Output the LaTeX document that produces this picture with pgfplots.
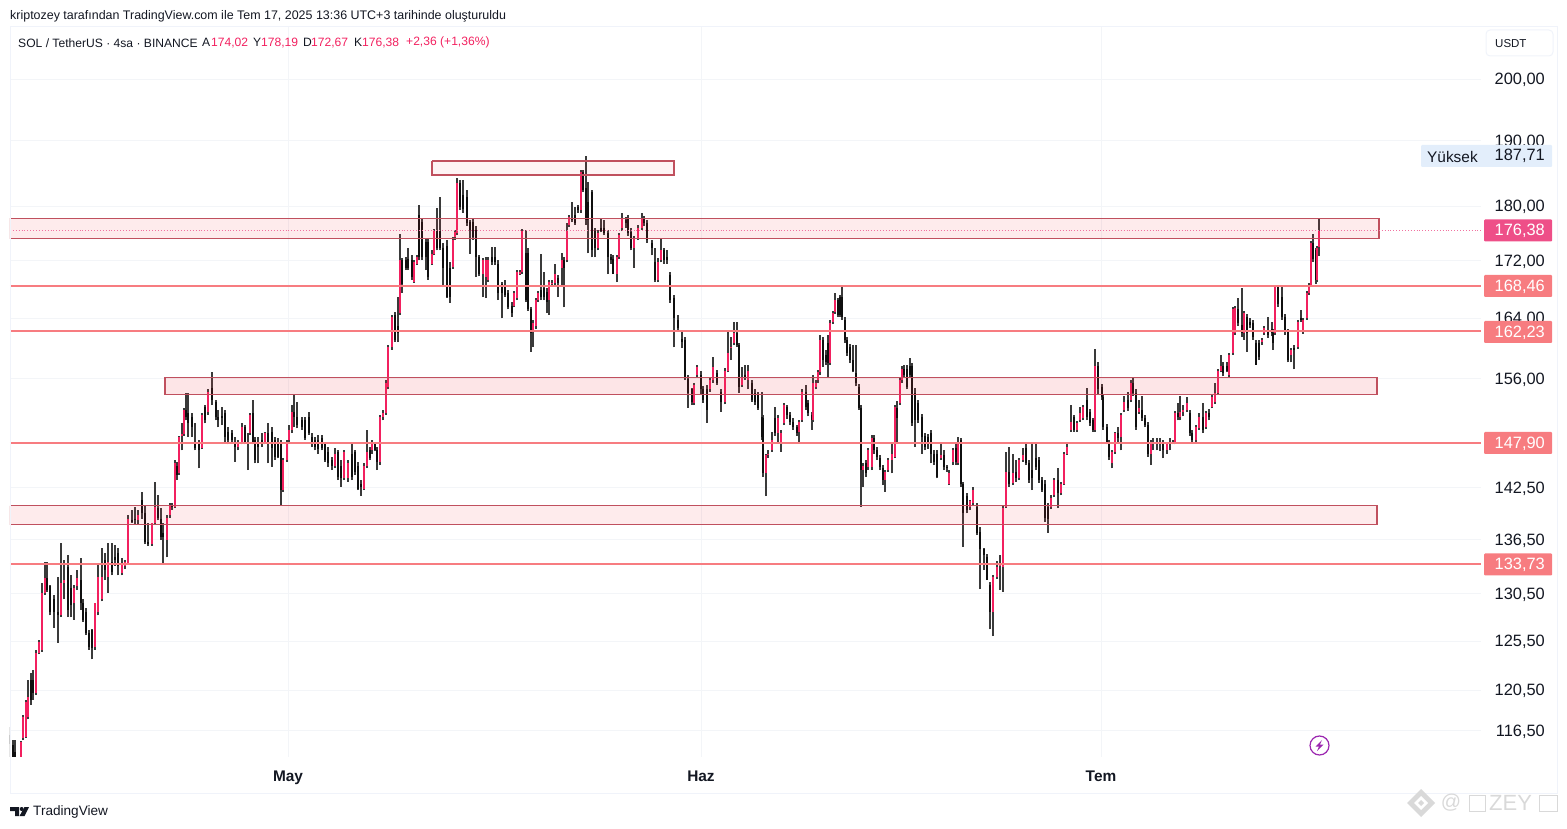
\documentclass[border=0pt]{standalone}
\usepackage{fontspec}
\setmainfont{Liberation Sans}
\usepackage{pgfplots}
\usepackage{pgfplotstable}
\pgfplotsset{compat=1.18}
\definecolor{up}{HTML}{F2205F}
\definecolor{down}{HTML}{0F0F0F}
\definecolor{wick}{HTML}{3A3A3A}
\definecolor{level}{HTML}{F77C80}
\definecolor{zoneb}{HTML}{C0505E}
\definecolor{zonef}{HTML}{F23645}
\definecolor{gridc}{HTML}{F3F5F8}
\definecolor{framec}{HTML}{F0F3FA}
\definecolor{txt}{HTML}{131722}
\definecolor{lastc}{HTML}{EE4F88}
\definecolor{hic}{HTML}{E3EEFB}
\definecolor{wm}{HTML}{D9D9D9}
\pgfplotstableread{
x o h l c
10 116.1 116.9 114.0 115.2
13 115.1 115.6 113.8 114.0
15 114.5 115.6 113.8 114.0
21 114.0 115.5 113.8 115.4
23 115.8 118.0 115.6 117.8
26 115.9 119.5 115.8 119.3
28 117.8 121.5 117.6 119.8
31 121.5 122.2 119.0 119.5
33 121.5 122.5 119.5 120.2
36 120.2 124.6 120.0 124.3
39 124.3 125.6 124.1 125.4
42 124.6 131.7 124.4 130.6
45 130.6 134.0 130.4 132.2
47 132.2 134.0 130.7 130.9
50 131.3 131.5 128.2 128.5
54 129.9 130.4 126.9 128.5
58 128.6 132.3 125.3 128.2
61 128.2 136.1 128.0 131.7
64 131.7 134.2 129.9 132.0
68 133.4 134.8 128.0 128.8
71 131.1 132.5 128.0 129.3
74 129.5 131.5 127.7 131.1
77 131.3 133.1 130.9 132.2
81 132.0 134.4 128.8 129.5
83 129.5 129.9 127.5 127.7
86 128.5 129.0 126.1 126.3
89 126.3 126.6 124.6 124.9
92 126.6 126.7 123.6 124.8
95 124.9 129.5 124.6 129.5
98 128.5 133.9 128.2 132.3
102 129.9 135.6 129.7 132.3
105 134.2 135.0 132.0 133.1
108 132.3 136.1 130.6 134.0
112 134.0 136.1 132.5 132.9
115 134.5 135.9 133.6 134.2
118 135.0 135.6 132.5 133.6
122 132.8 134.4 132.5 133.9
125 133.6 134.2 133.2 134.0
128 133.9 139.3 133.7 138.9
132 138.7 139.9 138.4 138.5
135 138.9 140.3 138.2 138.7
138 138.7 139.9 138.2 139.3
142 141.1 142.0 138.9 139.5
145 139.6 140.5 136.0 136.2
148 136.2 138.4 135.8 136.0
152 136.0 138.4 135.8 138.4
155 138.4 143.2 138.2 140.3
158 140.1 141.7 138.7 139.0
161 138.9 140.1 136.5 136.8
163 137.2 138.4 133.8 136.8
167 136.5 139.3 134.5 139.0
170 139.3 140.7 139.0 140.5
172 140.5 140.7 139.9 140.3
175 140.3 145.8 140.1 145.4
177 145.1 145.6 143.4 144.0
179 144.3 148.8 144.0 148.6
182 148.8 150.3 147.0 149.0
184 149.0 152.3 148.8 152.0
186 152.0 154.1 150.7 151.1
188 151.6 154.1 148.6 150.3
192 151.1 151.6 148.6 149.8
195 147.9 150.3 147.0 147.3
199 147.7 148.3 144.8 147.0
202 147.3 151.6 147.1 151.4
205 152.4 152.6 150.3 150.7
208 151.8 154.6 151.4 154.3
212 154.8 156.8 152.6 153.3
216 153.0 153.3 150.7 151.1
218 151.1 152.0 149.8 150.7
222 151.2 152.4 150.1 151.0
225 151.6 152.0 147.9 148.6
228 149.3 149.8 147.7 148.3
232 149.1 149.5 147.9 148.3
235 147.9 148.6 145.6 147.4
238 147.4 148.3 147.0 147.9
242 147.9 150.3 147.7 149.8
245 149.8 150.1 147.7 147.9
248 147.9 149.1 144.6 147.7
250 149.1 151.6 148.9 151.4
253 151.6 153.3 147.7 147.9
255 148.3 148.6 145.4 145.8
258 147.9 148.6 145.4 147.4
262 148.3 149.1 147.4 147.7
265 147.9 149.3 147.7 149.1
268 149.1 150.3 145.4 147.9
272 149.3 149.8 145.0 147.3
275 148.3 148.6 145.8 146.2
278 148.0 148.5 146.0 146.2
281 147.9 148.3 140.4 142.2
283 142.2 146.0 142.0 145.8
287 145.8 148.3 145.6 148.0
289 148.3 150.1 148.0 149.5
292 149.5 152.6 149.1 151.7
294 151.7 153.9 149.8 151.1
297 151.1 153.0 149.7 150.1
302 150.7 151.1 149.5 149.8
305 150.7 151.1 148.3 148.5
309 151.1 151.8 148.9 149.1
312 148.6 149.1 147.4 147.9
315 148.3 148.6 147.0 147.4
318 148.3 148.9 146.6 147.1
322 148.5 148.9 147.0 147.3
325 147.7 148.0 145.6 145.8
328 146.8 147.4 145.0 145.4
332 145.8 146.2 144.6 145.1
335 145.1 147.3 144.8 146.6
338 146.8 147.0 143.4 143.8
341 145.1 145.8 142.6 143.6
344 143.6 147.0 143.4 146.8
348 143.6 145.8 143.2 145.4
352 146.6 147.7 143.4 143.8
355 146.8 147.0 144.0 144.4
358 145.1 145.6 142.2 142.4
361 143.0 143.4 141.5 142.6
364 142.4 145.4 142.2 145.1
367 145.1 149.5 144.9 146.8
370 147.0 147.4 145.8 146.1
372 147.0 148.3 146.6 147.7
375 147.7 148.0 146.9 147.0
377 147.0 147.4 144.6 145.6
380 145.6 151.4 145.2 151.1
383 151.1 152.0 150.7 151.6
386 151.6 155.8 151.4 155.4
388 154.9 160.4 154.6 160.1
392 160.1 164.5 159.8 164.2
395 164.5 164.8 160.8 161.1
398 162.9 166.9 160.8 162.0
400 164.7 175.9 164.5 172.1
402 172.1 172.4 167.5 168.7
406 172.1 172.5 170.7 171.0
408 172.3 173.8 170.7 171.0
412 172.1 172.8 169.3 169.7
414 169.0 172.1 168.9 171.8
417 171.6 172.8 171.4 172.5
419 178.7 180.1 172.1 172.5
422 177.6 178.2 172.1 172.5
426 174.7 175.3 170.7 172.5
428 174.7 175.3 169.3 169.7
432 171.6 173.5 171.4 173.0
434 173.0 176.6 172.8 176.3
437 176.3 179.7 173.5 173.9
440 176.3 181.4 173.5 173.9
443 173.9 174.5 168.3 171.0
447 174.2 175.0 166.8 166.9
450 171.0 171.8 166.1 166.9
453 171.2 175.5 170.9 175.0
455 175.5 176.4 175.0 176.1
457 176.0 184.2 175.7 183.4
460 183.4 183.9 179.4 179.9
463 181.6 183.9 179.0 179.6
467 181.3 182.4 177.1 177.5
470 177.6 177.9 173.0 176.4
473 177.6 178.2 175.0 175.5
476 176.4 177.0 169.7 172.5
479 172.5 172.8 169.8 170.1
483 170.1 172.4 166.9 172.1
486 169.7 172.5 166.8 172.1
488 169.3 172.5 169.0 172.1
492 172.5 174.0 171.4 171.8
495 172.5 174.0 171.4 171.8
498 171.6 172.1 166.5 167.5
502 168.7 169.0 164.0 167.5
505 168.4 169.3 166.9 167.2
508 167.5 167.9 165.2 165.5
512 165.7 166.2 164.2 164.7
514 165.7 167.8 165.5 167.5
517 166.8 170.7 166.5 170.4
520 170.2 170.7 170.0 170.4
522 170.4 176.6 170.1 176.3
526 173.2 176.4 166.2 166.5
528 173.2 173.9 165.0 165.2
531 165.2 165.6 159.5 162.0
533 162.1 163.8 160.2 163.4
536 162.9 166.8 162.5 166.5
538 166.5 167.8 166.2 167.5
541 167.9 173.0 166.5 166.9
544 168.2 170.4 166.5 166.9
547 167.6 168.2 164.7 166.2
549 166.5 169.3 164.5 169.0
552 168.7 169.3 168.4 168.9
555 168.9 171.6 168.6 170.1
558 169.6 170.0 166.9 168.9
562 171.0 173.2 168.4 172.1
564 172.1 172.5 165.5 171.0
567 172.1 177.5 171.8 176.3
569 177.2 178.7 176.9 178.4
572 178.2 180.6 177.6 177.9
575 178.7 179.9 177.2 177.5
578 179.9 180.2 179.0 179.4
581 179.4 185.5 179.0 185.2
583 185.2 185.4 182.1 182.4
586 182.7 187.7 177.2 177.9
588 180.6 183.6 173.1 177.9
592 182.1 182.4 172.5 173.5
595 176.3 176.8 172.5 173.8
598 173.8 176.4 173.5 176.0
601 176.8 178.2 176.1 176.3
604 176.8 177.9 175.7 176.0
608 176.0 176.4 170.1 172.5
611 172.5 173.0 171.6 172.1
613 172.3 172.8 170.1 170.1
617 170.1 172.8 169.0 172.5
619 172.5 176.0 172.2 175.7
622 176.8 178.9 176.3 178.2
626 177.9 178.4 176.8 177.5
628 178.2 178.7 175.6 176.0
631 176.1 176.8 173.5 173.8
634 173.8 175.6 171.0 175.3
638 175.3 177.2 175.0 176.8
642 176.8 179.0 176.5 178.2
644 178.2 178.5 177.0 177.5
647 177.5 177.9 174.6 175.0
652 174.6 175.0 172.8 173.8
655 171.8 173.8 169.0 169.3
658 169.3 172.4 169.0 171.8
661 172.1 175.3 171.8 173.5
664 173.5 173.8 171.6 172.1
667 172.5 173.5 171.6 172.1
670 170.0 170.4 166.1 166.5
674 166.8 167.2 160.1 164.1
678 163.8 164.5 162.2 162.7
682 161.2 162.1 160.0 160.8
685 161.1 161.5 155.8 156.2
688 156.0 156.5 152.3 154.2
692 154.6 154.8 152.6 153.0
694 152.9 155.4 152.6 155.2
697 156.5 157.8 156.2 157.5
701 156.5 157.0 153.9 154.6
703 154.6 155.0 152.9 153.3
707 154.6 155.2 150.4 152.0
710 154.6 156.1 154.3 155.8
713 155.8 158.8 155.5 157.5
717 156.7 157.1 155.2 155.5
721 154.3 154.6 151.8 153.0
725 153.0 157.4 152.7 157.0
728 157.0 162.1 156.8 159.3
731 160.0 161.5 158.4 160.1
734 160.7 163.5 160.4 162.0
737 162.0 163.5 160.2 160.4
739 160.4 160.7 154.2 154.9
742 155.2 157.5 154.9 156.2
745 156.5 157.8 155.8 156.1
748 155.8 157.8 154.6 157.0
752 155.4 155.8 153.0 153.3
755 154.2 154.6 152.6 153.0
758 153.9 154.3 152.0 152.3
762 151.1 154.3 148.3 148.6
763 151.0 151.4 143.8 144.2
766 144.2 146.6 141.5 146.4
768 146.4 147.0 146.1 146.6
772 147.0 149.2 146.8 148.3
775 151.0 152.4 148.8 149.1
778 149.1 151.4 147.9 151.0
781 147.9 149.5 146.8 149.1
784 150.3 152.9 150.1 152.6
787 152.4 152.6 150.9 151.4
790 151.4 151.8 150.1 150.5
793 150.5 151.0 149.5 149.8
797 149.8 150.1 148.8 149.1
799 149.2 150.7 147.9 150.5
802 150.7 154.6 150.5 154.3
806 154.3 155.2 152.0 152.4
808 152.9 153.3 151.2 151.6
812 151.4 151.8 149.5 150.7
813 150.7 156.5 150.5 155.4
816 154.9 155.8 154.6 155.5
818 155.8 157.1 155.5 156.8
820 156.8 161.8 156.5 161.1
823 161.1 161.5 157.5 158.4
826 159.1 159.8 157.8 158.1
828 160.7 161.8 156.2 158.0
830 158.0 163.7 157.8 163.4
833 163.5 165.0 163.2 164.7
835 164.9 167.5 164.6 166.5
838 166.5 166.8 164.2 164.5
840 166.9 167.2 164.2 164.5
842 166.9 168.3 163.8 164.2
845 163.8 164.2 160.7 161.1
847 161.1 161.5 159.0 159.3
850 160.2 160.6 158.0 158.4
853 158.4 160.4 156.8 157.0
856 156.7 160.4 155.0 155.4
859 154.9 155.3 152.0 152.3
861 152.3 152.6 140.3 144.6
863 144.6 145.5 142.6 145.1
866 145.4 145.8 143.8 144.2
868 145.0 147.3 144.6 147.0
872 145.0 148.9 144.6 148.5
874 148.5 148.9 146.6 147.0
877 147.0 147.4 145.8 146.2
880 146.0 146.4 144.6 145.0
883 144.8 145.2 142.8 143.4
885 143.4 144.6 142.0 144.4
888 144.6 146.0 144.4 145.8
892 145.8 148.0 144.2 146.6
895 146.2 152.6 146.0 152.4
897 152.3 153.1 148.0 151.0
900 152.9 156.1 152.6 155.8
902 155.8 157.6 155.5 157.3
904 157.3 157.8 156.1 156.5
907 157.3 157.8 154.6 154.9
910 157.7 158.7 156.1 156.5
912 157.7 158.0 150.0 150.3
915 154.2 154.8 147.4 150.7
918 152.9 153.3 150.3 150.7
922 151.1 151.5 146.6 148.6
925 148.8 149.1 147.0 147.4
928 148.6 149.0 147.2 147.7
931 149.1 149.5 145.4 146.6
934 146.6 147.0 145.2 145.6
937 146.6 147.0 143.6 143.8
941 146.0 147.9 145.8 146.4
944 146.4 147.0 144.6 145.0
947 145.0 145.2 144.4 144.8
949 143.0 144.6 142.8 144.2
953 145.6 147.3 145.2 147.0
956 147.3 147.7 145.2 145.6
958 145.4 148.6 145.2 147.9
961 148.3 148.5 142.6 143.0
963 142.9 143.2 135.7 139.6
967 141.5 141.9 139.5 139.9
970 140.3 141.1 139.9 140.9
973 140.7 142.6 140.5 142.2
977 140.3 140.7 137.0 137.3
980 137.4 137.9 131.0 135.4
984 135.4 135.6 133.1 134.8
987 134.5 134.9 132.0 132.0
990 131.5 131.8 126.7 128.5
993 128.5 132.5 126.0 132.3
997 132.3 134.1 132.1 133.4
1000 133.6 134.8 130.9 133.7
1003 133.4 140.5 130.7 140.1
1006 140.3 146.8 140.1 144.4
1009 144.4 147.4 142.6 143.0
1013 143.1 146.6 142.8 144.2
1016 144.4 145.8 143.2 143.6
1019 143.6 146.0 143.4 145.8
1023 145.8 147.3 145.6 146.4
1026 147.3 147.9 145.2 145.4
1029 145.4 145.8 143.1 143.4
1032 144.6 147.9 142.2 143.6
1036 146.0 147.9 144.6 145.0
1039 145.8 146.2 143.1 143.4
1042 143.4 143.8 142.0 142.2
1045 143.0 143.4 138.5 139.0
1048 140.3 140.7 137.3 138.9
1051 140.3 141.7 140.0 141.3
1054 141.7 143.6 141.4 143.4
1058 143.4 144.9 140.1 141.9
1061 141.9 143.2 141.6 143.0
1064 143.0 146.8 142.8 146.6
1067 146.6 147.7 146.4 147.4
1071 149.5 152.6 149.3 150.5
1074 151.1 151.4 149.3 149.5
1077 149.5 150.6 149.3 150.3
1080 150.7 152.4 150.5 151.6
1083 151.0 152.6 150.7 152.4
1087 153.3 154.8 150.7 151.1
1090 151.8 152.1 150.0 150.3
1093 150.7 151.0 149.3 149.5
1095 149.5 159.9 149.3 157.7
1098 157.7 158.1 154.0 154.7
1102 154.9 155.3 153.3 153.6
1103 153.6 154.0 149.5 149.8
1107 149.8 150.2 147.7 148.0
1109 147.9 148.3 145.8 146.2
1112 145.4 147.0 144.8 146.8
1115 146.8 149.3 146.6 149.1
1118 149.1 149.8 148.0 148.5
1121 148.6 151.6 147.0 151.4
1124 152.0 153.7 151.8 153.0
1128 153.3 154.3 151.9 152.3
1131 153.3 155.8 153.0 155.5
1133 155.5 156.2 153.8 154.2
1136 154.2 154.6 149.5 149.8
1139 151.8 153.3 151.5 152.3
1142 152.0 153.7 150.6 151.0
1145 151.0 151.4 149.8 150.1
1148 150.1 150.5 146.2 146.6
1151 146.6 148.3 145.2 147.9
1153 147.9 148.5 147.0 148.0
1157 148.0 148.5 147.0 147.9
1160 148.0 148.5 146.9 147.7
1163 147.9 148.3 146.0 147.0
1167 147.0 147.9 146.6 147.7
1170 147.7 148.5 147.0 147.9
1173 147.9 148.3 147.7 148.0
1175 147.9 151.9 147.7 151.6
1178 151.6 152.9 150.7 151.1
1180 151.1 153.7 150.7 151.7
1183 151.7 152.6 151.2 152.0
1187 152.0 153.6 151.8 152.9
1190 151.6 152.0 148.8 149.1
1192 149.1 149.5 147.9 148.3
1196 148.3 150.1 147.9 149.8
1199 149.7 151.6 149.5 151.1
1203 151.1 152.9 149.1 149.5
1206 149.8 151.9 149.6 151.6
1209 151.6 152.1 150.7 151.1
1212 152.4 153.9 152.2 153.6
1215 153.0 155.4 152.8 154.2
1218 154.2 157.3 153.9 157.0
1221 157.0 159.1 156.8 157.7
1223 157.7 158.2 156.3 156.7
1227 157.7 158.2 156.8 157.0
1229 156.5 159.4 156.2 159.1
1233 159.3 165.5 159.1 165.2
1235 162.0 165.7 161.8 165.4
1238 165.2 166.8 163.0 163.4
1242 163.1 168.2 161.5 162.0
1244 162.0 165.0 161.1 164.7
1247 164.2 164.6 159.5 162.0
1250 163.5 164.1 162.7 163.1
1253 163.4 163.8 161.1 161.5
1256 160.7 161.1 157.8 157.8
1259 160.7 161.1 158.4 158.8
1262 160.8 161.4 160.4 161.1
1264 162.0 163.0 161.8 162.7
1268 162.1 164.2 161.4 161.8
1272 162.5 163.5 161.6 162.0
1273 162.0 162.5 159.8 160.7
1275 162.0 168.6 161.8 168.3
1278 168.3 168.6 165.6 166.0
1282 166.9 168.6 163.8 164.2
1285 164.2 164.6 161.8 162.1
1288 162.1 162.5 158.1 158.4
1291 159.1 160.0 158.1 159.8
1294 160.0 160.4 157.2 159.8
1298 160.1 163.8 159.9 163.5
1301 164.1 165.1 163.5 163.8
1303 162.1 164.1 161.9 163.8
1307 164.1 167.8 163.8 167.5
1309 167.5 168.9 167.2 168.6
1311 168.6 174.9 168.3 174.6
1313 174.6 175.9 171.9 172.3
1316 173.5 173.9 168.7 169.3
1317 169.3 174.2 169.0 173.9
1319 174.02 178.19 172.67 176.38
}\candles
\begin{document}
\begin{tikzpicture}[x=1pt,y=1pt]
\path[use as bounding box] (0,0) rectangle (1567,828);
% build the candle segments from the table
\pgfplotstablegetrowsof{\candles}
\pgfmathtruncatemacro\nrows{\pgfplotsretval-1}
\def\wicks{}\def\ups{}\def\downs{}
\pgfplotsforeachungrouped \i in {0,...,\nrows}{%
  \pgfplotstablegetelem{\i}{x}\of\candles\let\cx\pgfplotsretval
  \pgfplotstablegetelem{\i}{o}\of\candles\let\co\pgfplotsretval
  \pgfplotstablegetelem{\i}{h}\of\candles\let\ch\pgfplotsretval
  \pgfplotstablegetelem{\i}{l}\of\candles\let\cl\pgfplotsretval
  \pgfplotstablegetelem{\i}{c}\of\candles\let\cc\pgfplotsretval
  \edef\wicks{\wicks(\cx,\cl)(\cx,\ch)(\cx,nan)}%
  \ifdim\cc pt<\co pt
    \edef\downs{\downs(\cx,\co)(\cx,\cc)(\cx,nan)}%
  \else
    \edef\ups{\ups(\cx,\co)(\cx,\cc)(\cx,nan)}%
  \fi
}
\begin{axis}[
  at={(10pt,71pt)},anchor=south west,
  scale only axis,width=1471pt,height=730pt,
  xmin=10,xmax=1481,ymode=log,ymin=113.99,ymax=208.81,
  unbounded coords=jump,
  axis line style={draw=none},
  major tick length=0pt,
  grid=major,grid style={gridc,line width=0.8pt},
  xtick={288,701,1101},xticklabels={May,Haz,Tem},
  xticklabel pos=bottom,
  xticklabel style={font=\fontsize{15.4}{18}\selectfont\bfseries,text=txt,yshift=-10.5pt},
  ytick={116.5,120.5,125.5,130.5,136.5,142.5,147.9,156,164,172,180,190,200},
  yticklabels={{116,50},{120,50},{125,50},{130,50},{136,50},{142,50},{148,00},{156,00},{164,00},{172,00},{180,00},{190,00},{200,00}},
  yticklabel pos=right,
  yticklabel style={font=\fontsize{16.4}{19}\selectfont,text=txt,anchor=east,xshift=64pt,yshift=-0.8pt,inner sep=0pt},
]
\edef\tmp{\noexpand\addplot[wick,line width=1.1pt] coordinates {\wicks};}\tmp
\edef\tmp{\noexpand\addplot[down,line width=2.6pt] coordinates {\downs};}\tmp
\edef\tmp{\noexpand\addplot[up,line width=2.6pt] coordinates {\ups};}\tmp
% zones
\addplot[draw=zoneb,line width=1.1pt,fill=zonef,fill opacity=0.06] coordinates {(432,186.85)(674,186.85)(674,184.7)(432,184.7)(432,186.85)};
\addplot[draw=zoneb,line width=1.1pt,fill=zonef,fill opacity=0.10] coordinates {(10,178.2)(1379,178.2)(1379,175.2)(10,175.2)(10,178.2)};
\addplot[draw=zoneb,line width=1.1pt,fill=zonef,fill opacity=0.13] coordinates {(165,156.2)(1377,156.2)(1377,154.0)(165,154.0)(165,156.2)};
\addplot[draw=zoneb,line width=1.1pt,fill=zonef,fill opacity=0.10] coordinates {(10,140.4)(1377,140.4)(1377,138.2)(10,138.2)(10,140.4)};
% levels
\addplot[level,line width=2pt] coordinates {(10,168.46)(1481,168.46)};
\addplot[level,line width=2pt] coordinates {(10,162.23)(1481,162.23)};
\addplot[level,line width=2pt] coordinates {(10,147.90)(1481,147.90)};
\addplot[level,line width=2pt] coordinates {(10,133.73)(1481,133.73)};
\addplot[lastc!80,line width=0.9pt,dotted] coordinates {(10,176.38)(1481,176.38)};
\end{axis}
% frame
\draw[framec,line width=1pt] (10,{828-27}) rectangle (1557,{828-793});
% header
\node[anchor=west,inner sep=0pt,text=txt,font=\fontsize{12.45}{14}\selectfont] at (10,{828-16.6}) {kriptozey tarafından TradingView.com ile Tem 17, 2025 13:36 UTC+3 tarihinde oluşturuldu};
\def\hd#1#2#3{\node[anchor=west,inner sep=0pt,text=#2,font=\fontsize{12.1}{14}\selectfont] at (#1,{828-42.8}) {#3};}
\hd{18}{txt}{SOL / TetherUS · 4sa · BINANCE}
\hd{202}{txt}{A}\hd{211}{up}{174,02}
\hd{253}{txt}{Y}\hd{261}{up}{178,19}
\hd{303}{txt}{D}\hd{311}{up}{172,67}
\hd{354}{txt}{K}\hd{362}{up}{176,38}
\hd{406}{up}{+2,36 (+1,36\%)}
% USDT button
\draw[framec,line width=1pt,fill=white,rounded corners=4pt] (1486,{828-30}) rectangle (1553,{828-56});
\node[anchor=west,inner sep=0pt,text=txt,font=\fontsize{11.5}{14}\selectfont] at (1495,{828-43.5}) {USDT};
% Price labels
\def\pl#1#2#3{\fill[#2,rounded corners=1pt] (1484,{828-#1-11}) rectangle (1552,{828-#1+11});
  \node[text=white,inner sep=0pt,anchor=east,font=\fontsize{16.4}{19}\selectfont] at (1545,{828-#1-0.8}) {#3};}
\fill[hic,rounded corners=1pt] (1421,{828-145}) rectangle (1552,{828-167});
\node[text=txt,inner sep=0pt,anchor=west,font=\fontsize{15.4}{19}\selectfont] at (1427,{828-157}) {Yüksek};
\node[text=txt,inner sep=0pt,anchor=east,font=\fontsize{16.4}{19}\selectfont] at (1545,{828-155.8}) {187,71};
\pl{230.5}{lastc}{176,38}
\pl{286}{level}{168,46}
\pl{332}{level}{162,23}
\pl{443}{level}{147,90}
\pl{564.5}{level}{133,73}
% lightning badge
\definecolor{bolt}{HTML}{9C27B0}
\draw[bolt,line width=1.2pt] (1319.5,{828-745.5}) circle (9.5);
\fill[bolt] (1322,{828-740}) -- (1315.5,{828-746.5}) -- (1319,{828-746.5}) -- (1317,{828-751}) -- (1323.5,{828-744.5}) -- (1320,{828-744.5}) -- cycle;
% TradingView logo
\fill[txt] (10,{828-807}) -- (19,{828-807}) -- (19,{828-816}) -- (15,{828-816}) -- (15,{828-811}) -- (10,{828-811}) -- cycle;
\fill[txt] (21.7,{828-809}) circle (2);
\fill[txt] (24.5,{828-807}) -- (29,{828-807}) -- (24.5,{828-816}) -- (19.5,{828-816}) -- cycle;
\node[anchor=west,inner sep=0pt,text=txt,font=\fontsize{13.6}{16}\selectfont] at (33,{828-811.5}) {TradingView};
% watermark
\fill[wm] (1421,{828-789}) -- (1435,{828-803}) -- (1421,{828-817}) -- (1407,{828-803}) -- cycle;
\fill[white] (1421,{828-796}) -- (1428,{828-803}) -- (1421,{828-810}) -- (1414,{828-803}) -- cycle;
\fill[wm] (1421,{828-800}) -- (1424,{828-803}) -- (1421,{828-806}) -- (1418,{828-803}) -- cycle;
\node[text=wm,inner sep=0pt,font=\fontsize{20}{22}\selectfont] at (1451,{828-803}) {@};
\draw[wm,line width=0.8pt] (1469,{828-795}) rectangle (1485,{828-811});
\draw[wm,line width=0.8pt] (1539,{828-795}) rectangle (1557,{828-811});
\node[text=wm,inner sep=0pt,anchor=west,font=\fontsize{22}{24}\selectfont] at (1489,{828-803}) {ZEY};
\end{tikzpicture}
\end{document}
